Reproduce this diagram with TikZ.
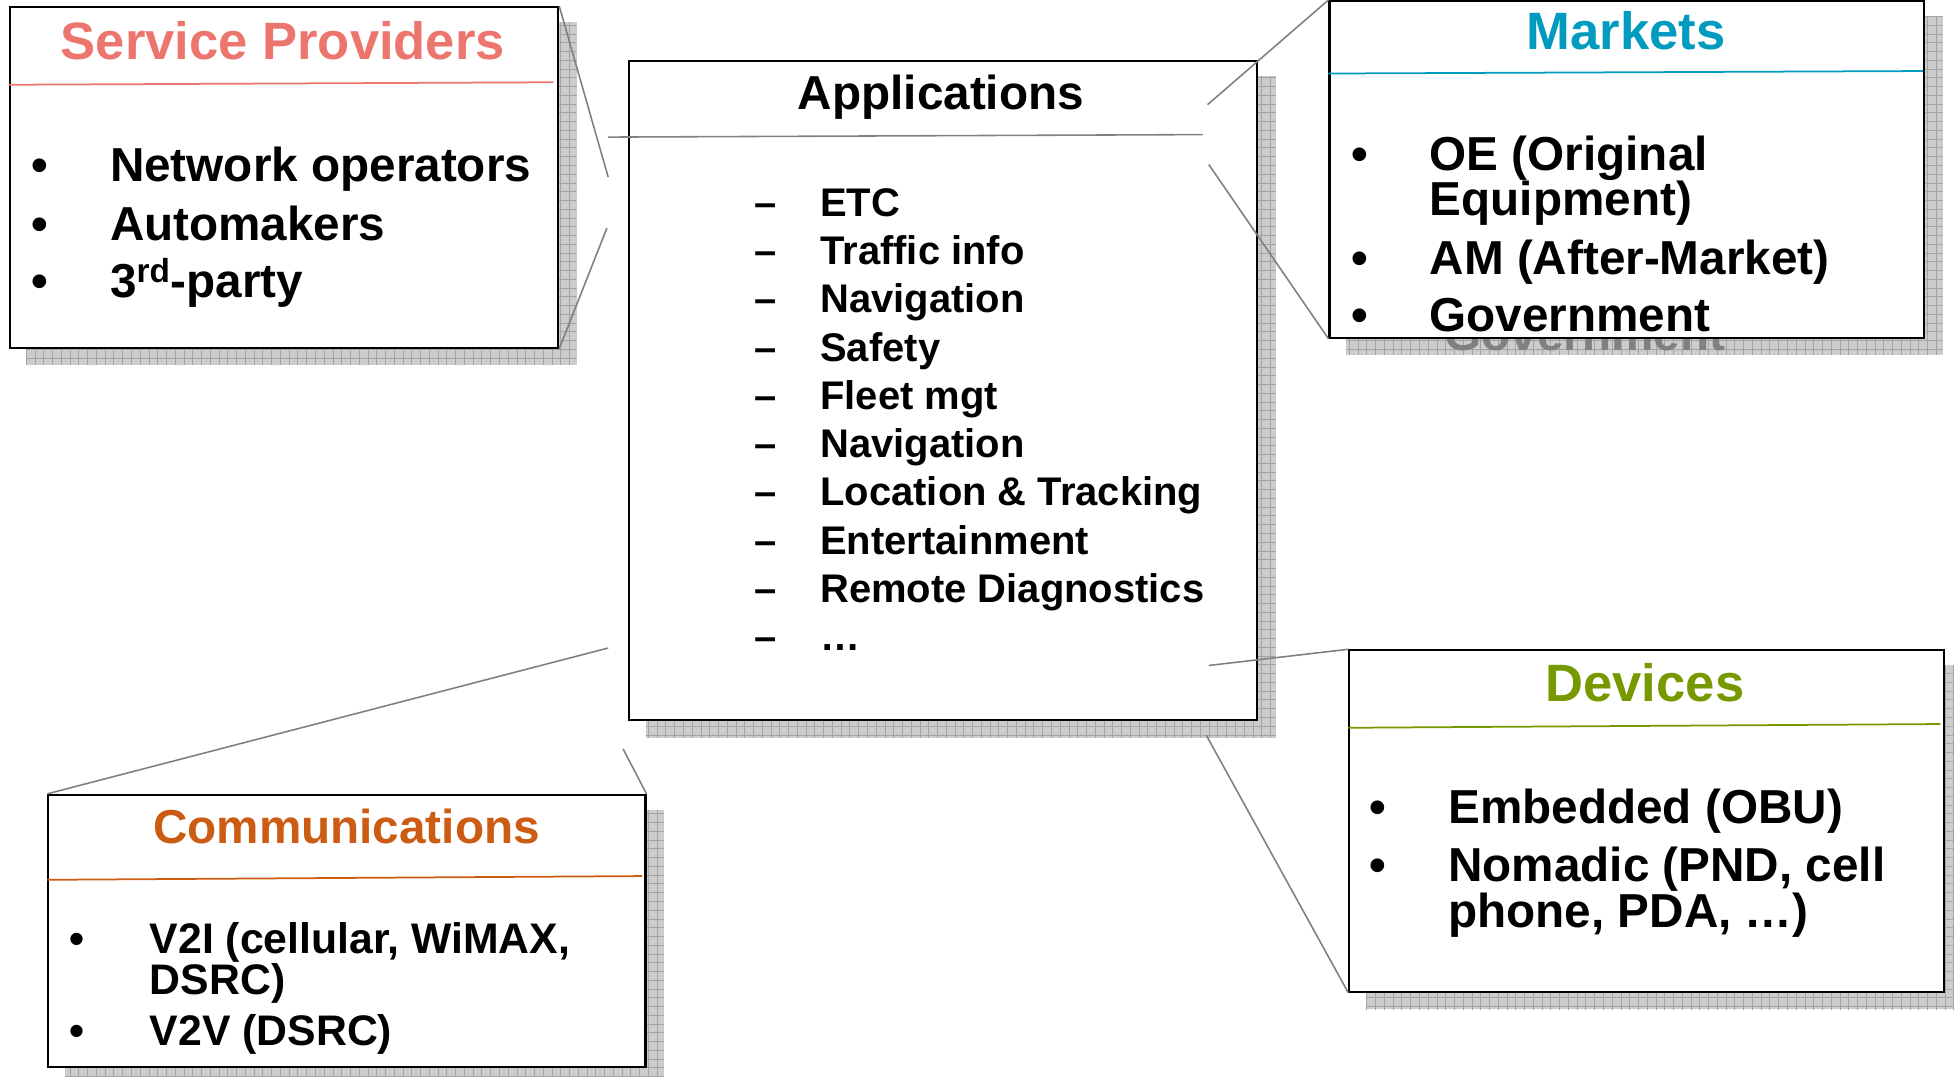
\documentclass[tikz,border=0pt]{standalone}
\usepackage{fontspec}
\setmainfont{Liberation Sans}
\usetikzlibrary{patterns.meta,backgrounds,calc}

\definecolor{spred}{RGB}{236,117,110}
\definecolor{mktteal}{RGB}{0,155,190}
\definecolor{devgreen}{RGB}{119,153,0}
\definecolor{comorange}{RGB}{204,92,20}

\tikzset{
  shadowbox/.style={fill=black!20,
    postaction={pattern={Lines[distance=5pt, line width=0.5pt]}, pattern color=black!36},
    postaction={pattern={Lines[angle=90, distance=5pt, line width=0.5pt]}, pattern color=black!36}},
  callout/.style={draw=black!50, line width=0.9pt}
}

\begin{document}
\begin{tikzpicture}[
  x=0.025cm, y=-0.025cm,
  box/.style={draw, line width=1.2pt, fill=white, inner sep=0pt, anchor=north west},
  ttl/.style={font=\bfseries\fontsize{30}{36}\selectfont, anchor=base, inner sep=0pt},
  ttlsm/.style={font=\bfseries\fontsize{27.2}{32}\selectfont, anchor=base, inner sep=0pt},
  itm/.style={font=\bfseries\fontsize{27.2}{32}\selectfont, anchor=base west, inner sep=0pt},
  bul/.style={font=\bfseries\fontsize{27.2}{32}\selectfont, anchor=base, inner sep=0pt},
  aitm/.style={font=\bfseries\fontsize{22.8}{27}\selectfont, anchor=base west, inner sep=0pt},
  abul/.style={font=\bfseries\fontsize{22.8}{27}\selectfont, anchor=base, inner sep=0pt},
  citm/.style={font=\bfseries\fontsize{24.4}{29}\selectfont, anchor=base west, inner sep=0pt},
  cbul/.style={font=\bfseries\fontsize{24.4}{29}\selectfont, anchor=base, inner sep=0pt}
]
\useasboundingbox (0,0) rectangle (1568,864);

% the five boxes
\node[box, minimum width=11cm, minimum height=6.825cm] (sp) at (7,5) {};
\node[box, minimum width=12.6cm, minimum height=13.225cm] (apps) at (504,48) {};
\node[box, minimum width=11.925cm, minimum height=6.75cm] (mkts) at (1066,0) {};
\node[box, minimum width=11.925cm, minimum height=6.85cm] (devs) at (1082,521) {};
\node[box, minimum width=11.975cm, minimum height=5.45cm] (comms) at (38,637) {};

\begin{scope}[on background layer]
  \foreach \b in {sp,apps,mkts,devs,comms}
    \fill[shadowbox] ($(\b.north west)+(14,13)$) rectangle ($(\b.south east)+(14,13)$);
  \node[itm, black!50] (ghost) at (1159,281) {Government};
\end{scope}

% header rules
\draw[spred, line width=1pt] (7,68) -- (444,66);
\draw[mktteal, line width=1pt] (1066,59) -- (1543,57);
\draw[devgreen, line width=1pt] (1082,584) -- (1557,581);
\draw[comorange, line width=1pt] (38,706) -- (515,703);
\draw[callout] (488,110) -- (965,108);

% callout lines
\coordinate (a1) at (488,142);
\coordinate (a2) at (487,183);
\coordinate (a3) at (969,84);
\coordinate (a4) at (970,132);
\coordinate (a5) at (970,534);
\coordinate (a6) at (968,590);
\coordinate (a7) at (488,520);
\coordinate (a8) at (500,601);
\draw[callout] (sp.north east) -- (a1);
\draw[callout] (sp.south east) -- (a2);
\draw[callout] (mkts.north west) -- (a3);
\draw[callout] (mkts.south west) -- (a4);
\draw[callout] (devs.north west) -- (a5);
\draw[callout] (devs.south west) -- (a6);
\draw[callout] (comms.north west) -- (a7);
\draw[callout] (comms.north east) -- (a8);

% service providers
\node[ttl, spred] (spt) at (227,48) {Service Providers};
\foreach \y/\t in {146/Network operators, 193/Automakers, 239/{3\textsuperscript{rd}-party}} {
  \node[bul] at (32,\y) {•};
  \node[itm] at (88,\y) {\t};
}

% applications
\node[ttlsm] (appt) at (755,88) {Applications};
\foreach \t [count=\i] in {ETC, Traffic info, Navigation, Safety, Fleet mgt, Navigation,
    Location \& Tracking, Entertainment, Remote Diagnostics, …} {
  \node[abul] at (614,135+38.7*\i) {–};
  \node[aitm] at (658,135+38.7*\i) {\t};
}

% markets
\node[ttl, mktteal] (mktt) at (1305,40) {Markets};
\foreach \y in {137,220,266}
  \node[bul] at (1091,\y) {•};
\foreach \y/\t in {137/OE (Original, 173/Equipment), 220/AM (After-Market), 266/Government}
  \node[itm] at (1147,\y) {\t};

% devices
\node[ttl, devgreen] (devt) at (1320,563) {Devices};
\foreach \y in {661,707}
  \node[bul] at (1106,\y) {•};
\foreach \y/\t in {661/Embedded (OBU), 707/{Nomadic (PND, cell}, 744/{phone, PDA, …)}}
  \node[itm] at (1162,\y) {\t};

% communications
\node[ttlsm, comorange] (comt) at (278,677) {Communications};
\foreach \y in {765,839}
  \node[cbul] at (62,\y) {•};
\foreach \y/\t in {765/{V2I (cellular, WiMAX,}, 798/DSRC), 839/V2V (DSRC)}
  \node[citm] at (120,\y) {\t};
\end{tikzpicture}
\end{document}
